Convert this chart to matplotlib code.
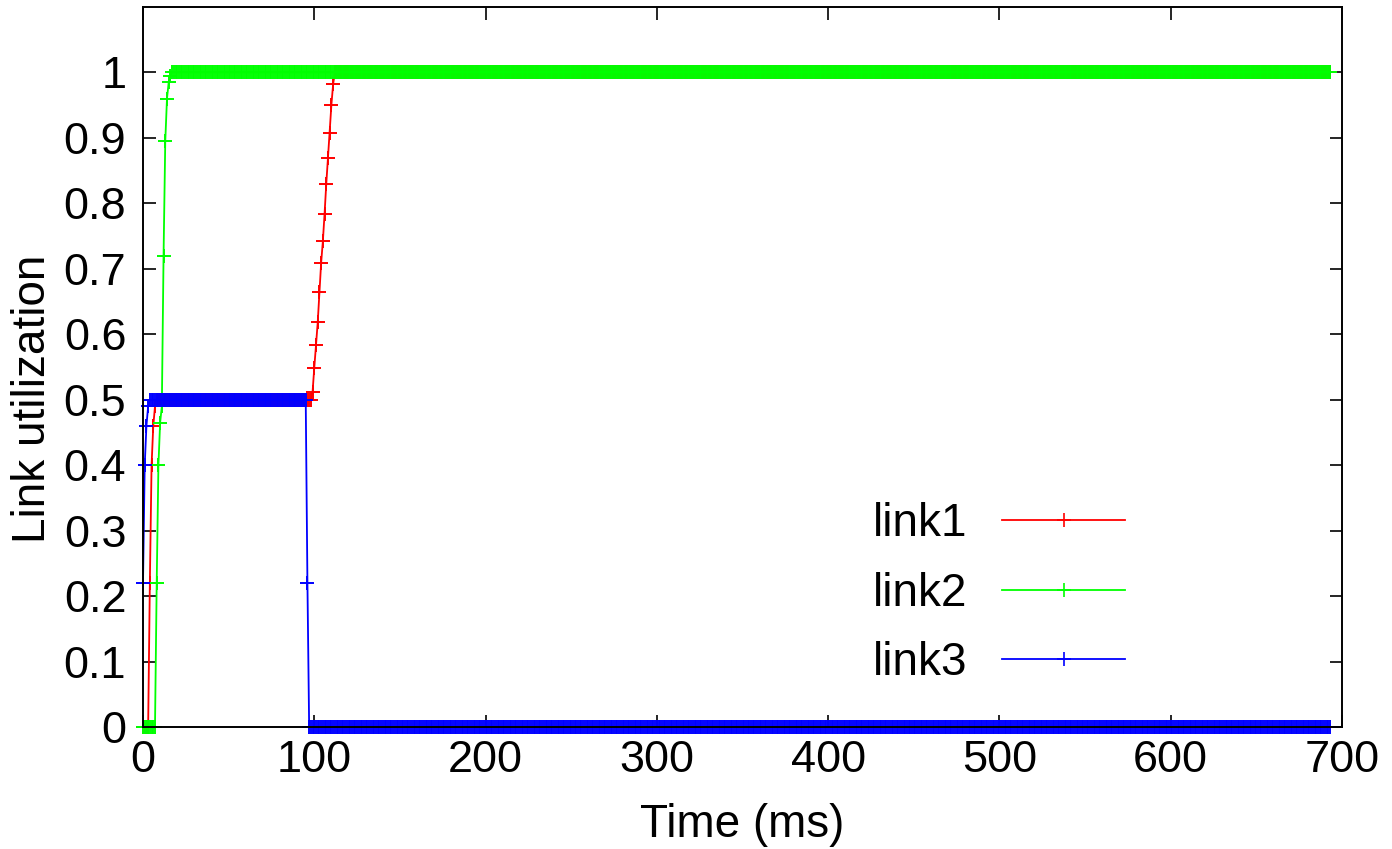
import numpy as np
import matplotlib
matplotlib.use("Agg")
import matplotlib.pyplot as plt

plt.rcParams['font.family'] = ['Liberation Sans', 'DejaVu Sans']

# ---- data (1 ms samples, 0..693 ms) ----
n_samples = 694
time_ms = np.arange(n_samples)

link1_start = [0, 0, 0, 0, 0.22, 0.40, 0.46, 0.49]          # t = 0..7
link1_plateau = 0.5                                          # t = 8..98
link1_ramp = [0.512, 0.549, 0.583, 0.618, 0.664, 0.709, 0.742,
              0.784, 0.830, 0.870, 0.908, 0.951, 0.982]      # t = 99..111
link1_final = 1.0                                            # t = 112..693

link2_start = [0, 0, 0, 0, 0, 0, 0, 0, 0.22, 0.40, 0.465, 0.49,
               0.72, 0.895, 0.96, 0.985, 0.995]              # t = 0..16
link2_final = 1.0                                            # t = 17..693

link3_start = [0.22, 0.40, 0.46, 0.49]                       # t = 0..3
link3_plateau = 0.5                                          # t = 4..95
link3_drop = [0.22]                                          # t = 96
link3_final = 0.0                                            # t = 97..693

labels = ["link1", "link2", "link3"]
colors = ["#ff0000", "#00ff00", "#0000ff"]

link1 = np.concatenate([link1_start,
                        np.full(99 - len(link1_start), link1_plateau),
                        link1_ramp,
                        np.full(n_samples - 99 - len(link1_ramp), link1_final)])
link2 = np.concatenate([link2_start,
                        np.full(n_samples - len(link2_start), link2_final)])
link3 = np.concatenate([link3_start,
                        np.full(96 - len(link3_start), link3_plateau),
                        link3_drop,
                        np.full(n_samples - 97, link3_final)])
series = [link1, link2, link3]

# ---- figure ----
fig = plt.figure(figsize=(13.92, 8.49), dpi=100)
ax = fig.add_axes([143 / 1392, 1 - 727 / 849, (1342 - 143) / 1392, (727 - 7) / 849])

for y, lab, c in zip(series, labels, colors):
    ax.plot(time_ms, y, color=c, lw=1.3, marker='+', markersize=9.5,
            markeredgewidth=1.4, label=lab, clip_on=False)

ax.set_xlim(0, 700)
ax.set_ylim(0, 1.1)
ax.set_xticks(np.arange(0, 701, 100))
ax.set_yticks(np.round(np.arange(0, 1.01, 0.1), 1))
ax.set_yticklabels(["0", "0.1", "0.2", "0.3", "0.4", "0.5", "0.6", "0.7", "0.8", "0.9", "1"])

ax.tick_params(direction='in', length=9, width=1.2, top=True, right=True,
               labelsize=32.5, color='black')
ax.tick_params(axis='x', pad=9)
ax.tick_params(axis='y', pad=12)
for s in ax.spines.values():
    s.set_linewidth(1.4)

ax.set_xlabel("Time (ms)", fontsize=33)
ax.set_ylabel("Link utilization", fontsize=33)
ax.xaxis.set_label_coords(0.5, -0.105)
ax.yaxis.set_label_coords(-0.073, 0.456)

leg = ax.legend(loc='center', bbox_to_anchor=(0.714, 0.185), frameon=False,
                fontsize=33, markerfirst=False, handlelength=2.7,
                handletextpad=0.75, labelspacing=0.56)
for h in leg.legend_handles:
    h.set_markeredgewidth(1.2)
for t in leg.get_texts():
    t.set_ha('right')

fig.savefig("out.png", dpi=100)
